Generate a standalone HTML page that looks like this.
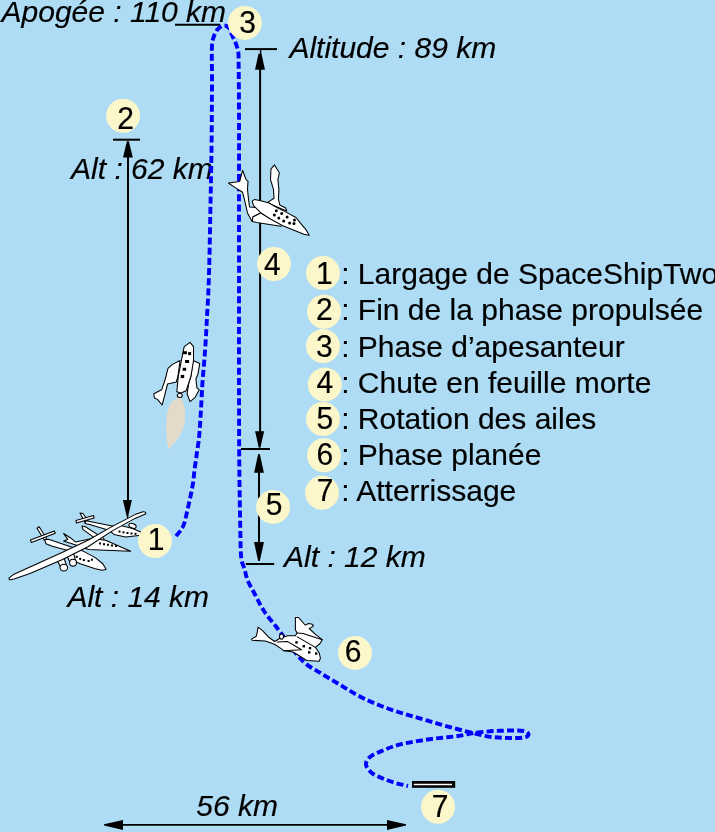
<!DOCTYPE html>
<html><head><meta charset="utf-8">
<style>
html,body{margin:0;padding:0;background:#AEDCF5;}
body{width:715px;height:832px;overflow:hidden;background:#AEDCF5;position:relative;}
svg{position:absolute;left:0;top:0;will-change:transform;}
.it{font-family:"Liberation Sans",sans-serif;font-style:italic;font-size:30px;fill:#000;stroke:#000;stroke-width:0.18;}
.rg{font-family:"Liberation Sans",sans-serif;font-size:30px;fill:#000;stroke:#000;stroke-width:0.18;}
.c{fill:#FCF7CA;}
.ln{stroke:#000;stroke-width:2;fill:none;}
.ah{fill:#000;}
.dash{stroke:#0000FF;stroke-width:3.9;fill:none;stroke-dasharray:7 3.2;}
.pl{fill:#fff;stroke:#000;stroke-width:1.05;stroke-linejoin:round;}
</style></head>
<body>
<svg width="715" height="832" viewBox="0 0 715 832">

  <text class="it" x="1.5" y="21.5">Apogée : 110 km</text>
  <text class="it" x="289.4" y="57.8">Altitude : 89 km</text>
  <text class="it" x="71.1" y="178.8">Alt : 62 km</text>
  <text class="it" x="67.4" y="606.9">Alt : 14 km</text>
  <text class="it" x="284.1" y="566.9">Alt : 12 km</text>
  <text class="it" x="196.3" y="815.7">56 km</text>
  <line class="ln" x1="175" y1="24.8" x2="220" y2="24.8"/>
  <line class="ln" x1="245" y1="49.1" x2="277" y2="49.1"/>
  <line class="ln" x1="260.6" y1="50" x2="260.6" y2="55" style="stroke-width:1.4"/>
  <path class="ah" d="M258.5 53.7 L261.5 53.7 L265.0 69.8 L255.0 69.8 Z"/>
  <line class="ln" x1="260.1" y1="69" x2="260.1" y2="432"/>
  <path class="ah" d="M258.8 447.8 L260.4 447.8 L264.1 431.2 L255.1 431.2 Z"/>
  <line class="ln" x1="241" y1="449" x2="270" y2="449"/>
  <path class="ah" d="M258.2 453.9 L259.8 453.9 L263.9 472.7 L254.1 472.7 Z"/>
  <line class="ln" x1="259" y1="472" x2="259" y2="543"/>
  <path class="ah" d="M258.2 560.9 L259.8 560.9 L264.0 542.0 L254.0 542.0 Z"/>
  <line class="ln" x1="245.8" y1="564" x2="274.2" y2="564"/>
  <line class="ln" x1="113" y1="139.7" x2="140" y2="139.7"/>
  <path class="ah" d="M126.9 141.2 L128.9 141.2 L132.8 157.5 L123.0 157.5 Z"/>
  <line class="ln" x1="128" y1="157" x2="128" y2="501"/>
  <path class="ah" d="M126.6 516.0 L128.2 516.0 L131.9 500.0 L122.9 500.0 Z"/>
  <line class="ln" x1="127.6" y1="515" x2="127.6" y2="520" style="stroke-width:1.4"/>
  <line class="ln" x1="122" y1="824.9" x2="388" y2="824.9" style="stroke-width:1.8"/>
  <path class="ah" d="M104.0 824.2 L104.0 825.6 L123.0 829.9 L123.0 819.9 Z"/>
  <path class="ah" d="M406.0 824.2 L406.0 825.6 L387.0 829.9 L387.0 819.9 Z"/>
  <rect x="412" y="781" width="43.2" height="6.8" fill="#000"/>
  <line x1="413.8" y1="784.5" x2="452" y2="784.5" stroke="#fff" stroke-width="1.4"/>
  <text class="rg" x="341.2" y="284.4">: Largage de SpaceShipTwo</text>
  <text class="rg" x="341.2" y="320.3">: Fin de la phase propulsée</text>
  <text class="rg" x="341.2" y="357.0">: Phase d’apesanteur</text>
  <text class="rg" x="341.2" y="392.9">: Chute en feuille morte</text>
  <text class="rg" x="341.2" y="428.6">: Rotation des ailes</text>
  <text class="rg" x="341.2" y="465.2">: Phase planée</text>
  <text class="rg" x="341.2" y="501.3">: Atterrissage</text>
  <path class="dash" d="M176.0 536.0 C177.7 534.0 179.6 532.2 181.0 530.0 C182.2 528.1 183.3 526.1 184.0 524.0 C185.3 520.1 186.1 516.0 187.0 512.0 C188.4 506.0 189.8 500.0 191.0 494.0 C191.8 490.0 192.6 486.0 193.2 482.0 C193.8 478.0 194.0 474.0 194.5 470.0 C195.3 464.0 196.2 458.0 197.0 452.0 C197.7 447.3 198.6 442.7 199.0 438.0 C199.9 428.4 200.4 418.7 201.0 409.0 C201.6 400.0 201.9 391.0 202.5 382.0 C203.1 373.7 204.0 365.3 204.6 357.0 C205.1 350.0 205.6 343.0 206.0 336.0 C206.4 329.5 206.6 323.0 207.0 316.5 C207.4 308.8 208.0 301.2 208.3 293.5 C208.8 282.0 209.1 270.5 209.4 259.0 C209.7 249.3 209.8 239.7 210.0 230.0 C210.5 203.3 211.1 176.7 211.5 150.0 C211.8 126.7 211.9 103.3 212.0 80.0 C212.1 68.3 211.5 56.7 212.0 45.0 C212.1 41.9 212.9 38.9 214.0 36.0 C214.9 33.5 216.1 30.9 218.0 29.0 C219.6 27.3 221.7 25.7 224.0 25.5 C225.9 25.3 227.8 26.6 229.0 28.0 C230.6 29.9 231.0 32.7 232.0 35.0 C233.3 38.0 234.9 40.9 236.0 44.0 C237.1 47.3 238.4 50.6 238.5 54.0 C239.4 112.7 238.9 171.3 239.0 230.0 C239.1 302.7 238.8 375.3 239.2 448.0 C239.3 478.7 239.9 509.3 240.5 540.0 C240.6 546.7 240.6 553.4 241.5 560.0 C241.9 563.1 243.6 566.0 244.5 569.0 C245.6 572.6 246.1 576.5 247.5 580.0 C249.2 584.2 251.6 588.0 253.7 592.0 C257.1 598.4 260.1 604.9 264.0 611.0 C267.5 616.5 272.0 621.3 276.0 626.5 C284.9 638.0 292.7 650.5 302.7 661.0 C307.5 666.0 314.1 669.0 320.0 672.7 C326.4 676.8 333.1 680.6 339.6 684.5 C346.1 688.4 352.3 692.5 359.0 696.0 C365.4 699.4 372.0 702.3 378.7 705.0 C385.1 707.6 391.7 709.9 398.3 712.0 C404.8 714.1 411.4 715.9 418.0 717.8 C424.5 719.7 431.0 721.7 437.5 723.6 C444.0 725.5 450.5 727.3 457.0 729.0 C463.0 730.6 469.0 732.1 475.0 733.5 C480.6 734.8 486.3 736.4 492.0 737.0 C499.6 737.9 507.3 738.0 515.0 738.0 C518.7 738.0 522.5 738.0 526.0 737.0 C527.2 736.6 528.9 735.2 528.5 734.0 C527.9 732.3 525.8 731.2 524.0 731.0 C516.0 730.1 508.0 730.5 500.0 730.8 C492.6 731.0 485.3 731.6 478.0 732.5 C471.3 733.3 464.7 735.0 458.0 736.0 C452.7 736.8 447.3 737.2 442.0 737.8 C436.5 738.4 431.0 738.9 425.5 739.8 C417.1 741.1 408.6 742.3 400.4 744.3 C394.6 745.7 389.1 747.9 383.6 750.2 C378.9 752.2 373.9 753.8 370.0 757.0 C367.8 758.8 365.7 761.7 366.0 764.5 C366.4 767.9 369.2 770.8 371.8 772.9 C375.2 775.7 379.6 777.0 383.6 778.7 C387.4 780.3 391.3 781.8 395.3 783.0 C399.5 784.2 403.8 785.0 408.0 786.0"/>
  <!-- plume -->
  <path d="M179.5 397.5 C184 400 186 410 185 420 C184 432 176 442 168.5 449.5 C166 440 165.5 425 167 414 C168.5 404 174 398 179.5 397.5 Z" fill="#E3DAC9"/>
  <!-- rocket ship (phase 2) -->
  <g class="pl">
    <path d="M180 360.5 L172.4 364.4 L168 368.3 L165 380 L161.6 389.8 L153.8 393.7 L154.3 397.7 L157.7 399.6 L162.1 405 L164.1 397.7 L167.5 384 L176.3 382 L178 376 Z"/>
    <path d="M193 360.5 L199.8 363.4 L197.9 374.2 L195.9 379 L196.9 387.9 L199.3 389.8 L194.9 397.7 L190 401.6 L187.1 393.7 L189 382 L191 376 Z"/>
    <ellipse cx="179.8" cy="395.5" rx="2.5" ry="2"/>
    <path d="M190 342.3 L193.5 346.7 L193.5 360.5 L191 376 L186.1 390.8 L181 393 L176.8 391.8 L178.3 376.1 L182.2 356.5 L184.2 346.7 Z"/>
  </g>
  <g fill="#000">
    <rect x="182.7" y="351.2" width="4.2" height="3"/><rect x="188.1" y="352.1" width="3" height="3"/><rect x="185.1" y="360" width="4" height="3"/><rect x="182.7" y="367.8" width="3.5" height="3"/><rect x="180.7" y="374.9" width="3.5" height="3.2"/>
  </g>
  <!-- feathered ship (phase 4) -->
  <g class="pl">
    <path d="M242.6 170.3 L244.6 175.7 L246.1 179.6 L248.0 181.1 L247.5 189.4 L248.5 199.2 L249.5 207.0 L259.7 207.7 L260.7 212.6 L253.0 217.0 L252.0 221.4 L247.5 212.9 L244.6 200.2 L242.6 192.3 L234.8 187.4 L228.4 183.0 L239.7 181.5 L241.2 175.7 Z"/>
    <path d="M274.5 164.9 L278.4 171.3 L279.4 172.7 L277.9 179.6 L278.9 189.4 L278.4 199.2 L279.8 205.0 L285.7 208.0 L286.7 211.0 L270.0 204.0 L268.1 202.1 L274.0 198.2 L273.5 189.4 L270.5 179.6 L271.0 168.8 Z"/>
    <path d="M252.8 217.0 L260.7 213.1 L282.2 225.4 L280.7 226.3 L269.5 224.4 L256.8 222.4 L252.3 221.4 Z"/>
    <path d="M252.3 200.9 L254.8 199.4 L261.6 200.9 L268.5 202.8 L277.3 207.7 L287.1 212.6 L295.9 217.5 L299.8 222.4 L305.7 229.3 L309.2 235.2 L303.8 234.2 L294.0 230.3 L282.2 225.4 L269.5 218.5 L260.7 212.6 L253.8 205.8 L252.3 202.3 Z"/>
  </g>
  <g fill="#000">
    <circle cx="276.3" cy="210.7" r="1.5"/>
    <circle cx="281.7" cy="213.6" r="1.5"/>
    <circle cx="287.1" cy="217.0" r="1.5"/>
    <circle cx="294.5" cy="220.0" r="1.5"/>
    <circle cx="274.4" cy="215.1" r="1.5"/>
    <circle cx="278.8" cy="218.0" r="1.5"/>
    <circle cx="283.7" cy="221.0" r="1.5"/>
    <circle cx="289.6" cy="222.9" r="1.5"/>
    <circle cx="294.0" cy="223.4" r="1.5"/>
  </g>
  <!-- glider (phase 6) -->
  <g class="pl">
    <path d="M258.1 627.2 L262.8 630.8 L268.8 637.3 L274.7 641.5 L279.5 638.5 L287.7 635.8 L295.4 635.8 L297.0 633.0 L295.4 629.7 L295.4 617.4 L298.5 617.4 L303.8 623.5 L305.4 625.1 L308.5 623.5 L312.3 624.3 L313.5 625.5 L311.5 627.4 L309.2 628.5 L315.4 634.3 L322.3 639.7 L320.0 643.5 L315.4 647.4 L319.2 652.8 L320.4 658.2 L319.2 661.2 L306.9 660.5 L299.2 655.8 L293.1 652.0 L283.8 650.8 L281.5 648.9 L274.6 644.3 L265.2 640.9 L252.1 640.3 L251.5 639.1 L256.3 636.2 L256.9 633.8 Z"/>
    <path d="M276.9 642.0 L287.7 641.6 L301.5 649.7 L283.8 650.8" fill="none"/>
    <path d="M296.9 636.6 L315.4 647.4" fill="none"/>
    <path d="M297.0 633.0 L303.1 633.5 L322.3 639.7" fill="none"/>
    <ellipse cx="281.5" cy="636.6" rx="2" ry="2.6"/>
  </g>
  <g fill="#000">
    <rect x="295.3" y="641.2" width="2.4" height="2.4"/>
    <rect x="302.6" y="645.0" width="2.4" height="2.4"/>
    <rect x="308.8" y="647.0" width="2.4" height="2.4"/>
    <rect x="308.0" y="651.2" width="2.4" height="2.4"/>
    <rect x="315.0" y="652.3" width="2.4" height="2.4"/>
  </g>
  <!-- mothership WhiteKnightTwo + SpaceShipTwo -->
  <g class="pl">
    <path d="M37.0 528.2 L44.4 540.2 L46.6 538.8 L39.2 526.8 Z"/>
    <path d="M31.4 542.5 L55.3 533.3 L54.3 530.9 L30.4 540.1 Z"/>
    <path d="M44.5 539.8 L48.5 539.2 L67.0 545.5 L82.7 550.9 L95.3 557.6 L103.0 564.0 L106.2 569.4 L102.0 570.2 L95.3 568.7 L80.2 563.7 L70.9 559.5 L67.0 550.3 L52.3 546.3 L46.0 543.8 Z"/>
    <path d="M82.0 526.0 L85.4 526.8 L103.9 538.6 L103.9 541.9 L98.8 541.1 L82.9 529.3 Z"/>
    <path d="M63.6 533.5 L70.3 537.7 L75.4 541.9 L92.1 538.6 L105.6 540.2 L130.7 551.2 L105.6 550.3 L88.8 549.5 L78.7 546.1 L63.6 541.1 L67.8 539.4 Z"/>
    <path d="M80 513 L83 513.5 L88 520.5 L85 522.5 Z"/>
    <path d="M76.5 523.0 L94.1 517.9 L93.5 515.5 L75.9 520.6 Z"/>
    <path d="M86.0 520.8 L112.3 526.0 L119.0 525.1 L132.4 528.5 L140.8 531.9 L140.8 535.2 L125.7 536.9 L114.0 534.4 L108.9 530.2 L88.8 524.3 L85.0 523.5 Z"/>
    <ellipse cx="132.5" cy="525.8" rx="3.8" ry="2.2" transform="rotate(22 132.5 525.8)"/>
    <path d="M57.5 561 L61 568 L67 567 L64 558 Z"/>
    <path d="M67 556 L70.5 563.5 L76 562 L73.5 553 Z"/>
    <ellipse cx="63.8" cy="567.6" rx="3.8" ry="3.4"/>
    <ellipse cx="73" cy="562.7" rx="3.4" ry="3.4"/>
    <path d="M10.5 576.9 L14.0 574.2 L30.0 567.0 L62.0 552.6 L88.0 540.3 L112.3 526.4 L135.0 514.6 L143.0 511.7 C146.5 511.5 147 514.5 143.0 514.9 L135.0 518.4 L112.3 530.9 L88.0 546.7 L62.0 559.8 L30.0 573.6 L14.0 579.0 L10.5 579.7 C9 580 8 577.5 10.5 577 Z"/>
  </g>
  <g fill="#000">
    <rect x="99.0" y="542.5" width="2" height="2"/>
    <rect x="103.0" y="543.2" width="2" height="2"/>
    <rect x="107.0" y="543.8" width="2" height="2"/>
    <rect x="111.0" y="544.5" width="2" height="2"/>
    <rect x="115.0" y="545.0" width="2" height="2"/>
    <rect x="118.5" y="530.5" width="2" height="2"/>
    <rect x="122.5" y="531.3" width="2" height="2"/>
    <rect x="126.5" y="532.0" width="2" height="2"/>
    <rect x="130.5" y="532.5" width="2" height="2"/>
    <rect x="134.5" y="532.8" width="2" height="2"/>
    <rect x="75.8" y="555.8" width="2" height="2"/>
    <rect x="79.2" y="557.9" width="2" height="2"/>
    <rect x="82.9" y="559.1" width="2" height="2"/>
    <rect x="87.6" y="560" width="2" height="2"/>
    <rect x="90.9" y="558.7" width="2" height="2"/>
  </g>

  <circle class="c" cx="323.0" cy="273.0" r="17"/><text class="rg" text-anchor="middle" transform="translate(324.3 284.4) scale(1 1.06)">1</text>
  <circle class="c" cx="324.0" cy="311.7" r="17"/><text class="rg" text-anchor="middle" transform="translate(324.3 320.3) scale(1 1.06)">2</text>
  <circle class="c" cx="323.0" cy="346.1" r="17"/><text class="rg" text-anchor="middle" transform="translate(324.3 357.0) scale(1 1.06)">3</text>
  <circle class="c" cx="324.8" cy="384.6" r="17"/><text class="rg" text-anchor="middle" transform="translate(324.9 392.9) scale(1 1.06)">4</text>
  <circle class="c" cx="323.0" cy="419.0" r="17"/><text class="rg" text-anchor="middle" transform="translate(324.9 428.6) scale(1 1.06)">5</text>
  <circle class="c" cx="324.0" cy="455.2" r="17"/><text class="rg" text-anchor="middle" transform="translate(324.9 465.2) scale(1 1.06)">6</text>
  <circle class="c" cx="322.0" cy="492.8" r="17"/><text class="rg" text-anchor="middle" transform="translate(325.0 501.3) scale(1 1.06)">7</text>
  <circle class="c" cx="123.1" cy="115.8" r="17"/><text class="rg" text-anchor="middle" transform="translate(125.5 129.0) scale(1 1.06)">2</text>
  <circle class="c" cx="244.9" cy="22.9" r="17"/><text class="rg" text-anchor="middle" transform="translate(247.7 33.0) scale(1 1.06)">3</text>
  <circle class="c" cx="274.0" cy="264.0" r="17"/><text class="rg" text-anchor="middle" transform="translate(272.4 275.0) scale(1 1.06)">4</text>
  <circle class="c" cx="273.1" cy="506.9" r="17"/><text class="rg" text-anchor="middle" transform="translate(274.0 515.0) scale(1 1.06)">5</text>
  <circle class="c" cx="155.0" cy="541.0" r="17"/><text class="rg" text-anchor="middle" transform="translate(156.0 550.0) scale(1 1.06)">1</text>
  <circle class="c" cx="355.0" cy="652.9" r="17"/><text class="rg" text-anchor="middle" transform="translate(353.2 662.2) scale(1 1.06)">6</text>
  <circle class="c" cx="438.1" cy="806.8" r="17"/><text class="rg" text-anchor="middle" transform="translate(440.0 817.0) scale(1 1.06)">7</text>
</svg>
</body></html>
